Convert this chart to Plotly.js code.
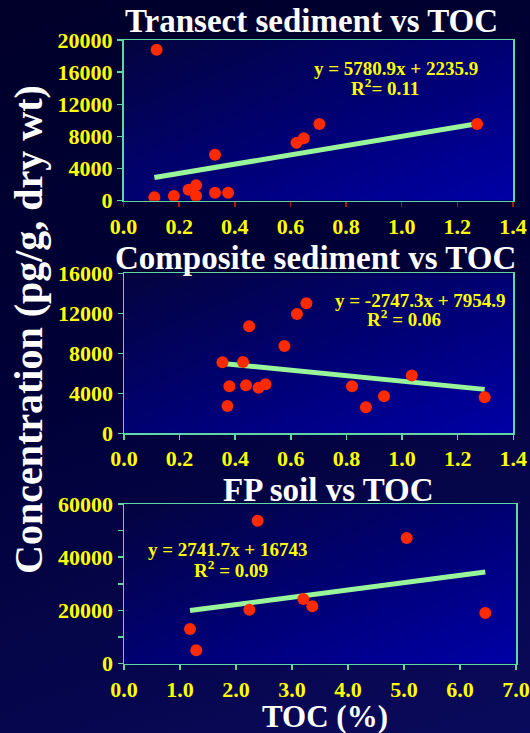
<!DOCTYPE html>
<html><head><meta charset="utf-8">
<script src="https://cdn.plot.ly/plotly-3.0.1.min.js"></script>
<style>
html,body{margin:0;padding:0;width:530px;height:733px;overflow:hidden;
background:linear-gradient(160deg,#00002a 0%,#000038 45%,#0a0a5c 100%);}
#chart{width:530px;height:733px;}
</style></head><body><div id="chart"></div>
<script>
// Panel 1: Transect sediment
const transectTOC  = [0.119,0.111,0.181,0.234,0.261,0.261,0.329,0.329,0.376,0.622,0.648,0.704,1.271];
const transectConc = [18800,420,580,1370,1910,580,5730,1000,1000,7220,7760,9550,9550];
const transectFit  = {slope:5780.9, intercept:2235.9, r2:'0.11'};
// Panel 2: Composite sediment
const compositeTOC  = [0.354,0.428,0.450,0.379,0.372,0.439,0.484,0.509,0.577,0.622,0.656,0.820,0.870,0.935,1.035,1.297];
const compositeConc = [7100,7130,10700,4700,2730,4800,4560,4900,8730,11930,13000,4700,2600,3700,5770,3600];
const compositeFit  = {slope:-2747.3, intercept:7954.9, r2:'0.06'};
// Panel 3: FP soil
const soilTOC  = [2.387,5.048,3.202,3.363,2.238,6.452,1.179,1.291];
const soilConc = [53730,47230,24310,21560,20290,19050,13040,5030];
const soilFit  = {slope:2741.7, intercept:16743, r2:'0.09'};

const titles = ['Transect sediment vs TOC','Composite sediment vs TOC','FP soil vs TOC'];
const equations = ['y = 5780.9x + 2235.9','y = -2747.3x + 7954.9','y = 2741.7x + 16743'];
const yTitle = 'Concentration (pg/g, dry wt)';
const xTitle = 'TOC (%)';

const W=530,H=733;
const px=(a,b)=>[a/W,b/W];
const py=(top,bot)=>[1-bot/H,1-top/H];
const dom = [
  {x:px(123.5,513), y:py(40,200.7)},
  {x:px(124,513.3), y:py(273.3,433.3)},
  {x:px(124,516),   y:py(504,663.7)}
];

const red='#ff2a00', fitCol='#99f59a', yellow='#ffff00', axCol='#5fd6a4';
const serif='"Liberation Serif","Times New Roman",serif';

function fitLine(xs,f){const lo=Math.min(...xs),hi=Math.max(...xs);return {x:[lo,hi],y:[f.slope*lo+f.intercept,f.slope*hi+f.intercept]};}
const sets=[[transectTOC,transectConc,transectFit],[compositeTOC,compositeConc,compositeFit],[soilTOC,soilConc,soilFit]];
const data=[];
sets.forEach((s,i)=>{
  const xa=i===0?'x':'x'+(i+1), ya=i===0?'y':'y'+(i+1);
  const fl=fitLine(s[0],s[2]);
  data.push({x:fl.x,y:fl.y,xaxis:xa,yaxis:ya,mode:'lines',line:{color:fitCol,width:5},hoverinfo:'skip'});
  data.push({x:s[0],y:s[1],xaxis:xa,yaxis:ya,mode:'markers',marker:{color:red,size:12}});
});

const tickFont={family:serif,size:22,color:yellow,weight:'bold'};
function xax(i,range,dtick,tcol){return {domain:dom[i].x,anchor:i===0?'y':'y'+(i+1),range:range,dtick:dtick,tick0:0,tickformat:'.1f',
  showgrid:false,zeroline:false,showline:true,mirror:true,linecolor:axCol,linewidth:1.5,ticks:'outside',ticklen:5,tickcolor:tcol,tickwidth:1.5,
  tickfont:tickFont,ticklabelstandoff:0};}
function yax(i,range,dtick,minor){const o={domain:dom[i].y,anchor:i===0?'x':'x'+(i+1),range:range,dtick:dtick,tick0:0,tickformat:'d',
  showgrid:false,zeroline:false,showline:true,mirror:true,linecolor:axCol,linewidth:1.5,ticks:'outside',ticklen:5,tickcolor:axCol,tickwidth:1.5,
  tickfont:tickFont,ticklabelstandoff:0};
  if(minor)o.minor={dtick:minor,ticks:'outside',ticklen:5,tickcolor:axCol,showgrid:false};return o;}

const grad="data:image/svg+xml;utf8,"+encodeURIComponent("<svg xmlns='http://www.w3.org/2000/svg' width='100' height='100' viewBox='0 0 100 100' preserveAspectRatio='none'><defs><linearGradient id='g' x1='0' y1='0' x2='1' y2='1'><stop offset='0' stop-color='#03033e'/><stop offset='0.55' stop-color='#000077'/><stop offset='1' stop-color='#0000a6'/></linearGradient></defs><rect width='100' height='100' fill='url(#g)'/></svg>");
const images=dom.map(d=>({source:grad,xref:'paper',yref:'paper',x:d.x[0],y:d.y[1],sizex:d.x[1]-d.x[0],sizey:d.y[1]-d.y[0],sizing:'stretch',layer:'below',xanchor:'left',yanchor:'top'}));

const eqFont={family:serif,size:19,color:yellow,weight:'bold'};
const C={showarrow:false,xanchor:'center',yanchor:'middle',borderpad:0};
const ann=[
  {...C,text:equations[0],xref:'x',yref:'y',x:0.98,y:16500,font:eqFont},
  {...C,text:'R<sup>2</sup>= '+transectFit.r2,xref:'x',yref:'y',x:0.94,y:14150,font:eqFont},
  {...C,text:equations[1],xref:'x2',yref:'y2',x:1.064,y:13330,font:eqFont},
  {...C,text:'R<sup>2</sup> = '+compositeFit.r2,xref:'x2',yref:'y2',x:1.007,y:11530,font:eqFont},
  {...C,text:equations[2],xref:'x3',yref:'y3',x:1.84,y:42720,font:eqFont},
  {...C,text:'R<sup>2</sup> = '+soilFit.r2,xref:'x3',yref:'y3',x:1.91,y:35580,font:eqFont},
  {...C,text:titles[0],xref:'paper',yref:'paper',x:311/W,y:1-21/H,font:{family:serif,size:33,color:'#ffffff',weight:'bold'}},
  {...C,text:titles[1],xref:'paper',yref:'paper',x:315/W,y:1-258/H,font:{family:serif,size:33,color:'#ffffff',weight:'bold'}},
  {...C,text:titles[2],xref:'paper',yref:'paper',x:328/W,y:1-490/H,font:{family:serif,size:33,color:'#ffffff',weight:'bold'}},
  {...C,text:yTitle,xref:'paper',yref:'paper',x:28/W,y:1-330/H,textangle:-90,font:{family:serif,size:40,color:'#ffffff',weight:'bold'}},
  {...C,text:xTitle,xref:'paper',yref:'paper',x:325/W,y:1-716/H,font:{family:serif,size:31,color:'#ffffff',weight:'bold'}}
];

const layout={width:W,height:H,margin:{l:0,r:0,t:0,b:0},paper_bgcolor:'rgba(0,0,0,0)',plot_bgcolor:'rgba(0,0,0,0)',showlegend:false,
  xaxis:xax(0,[0,1.4],0.2,'#b01a00'),yaxis:yax(0,[0,20000],4000),
  xaxis2:xax(1,[0,1.4],0.2,axCol),yaxis2:yax(1,[0,16000],4000),
  xaxis3:xax(2,[0,7],1,axCol),yaxis3:yax(2,[0,60000],20000,10000),
  images:images,annotations:ann};
Plotly.newPlot('chart',data,layout,{displayModeBar:false,staticPlot:true});
</script></body></html>
